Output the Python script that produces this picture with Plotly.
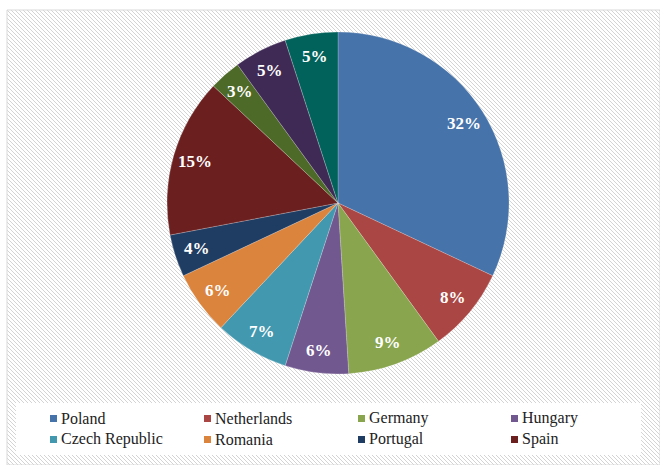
import base64
import math
import plotly.graph_objects as go

labels = ["Poland", "Netherlands", "Germany", "Hungary", "Czech Republic",
          "Romania", "Portugal", "Spain", "Other 1", "Other 2", "Other 3"]
values = [32, 8, 9, 6, 7, 6, 4, 15, 3, 5, 5]
colors = ["#4673A9", "#AA4643", "#89A54E", "#71588F", "#4198AF",
          "#DB843D", "#1F3C62", "#6B1F1F", "#4E6A28", "#3F2A55", "#00625A"]
legend_labels = ["Poland", "Netherlands", "Germany", "Hungary",
                 "Czech Republic", "Romania", "Portugal", "Spain"]

W, H = 660, 465
SERIF = "Liberation Serif"

# hatched background as inline svg
fx0, fy0, fx1, fy1 = 7, 10, 660, 465
fw, fh = fx1 - fx0, fy1 - fy0
svg = (f"<svg xmlns='http://www.w3.org/2000/svg' width='{fw}' height='{fh}'>"
       "<defs><pattern id='p' width='4' height='4' patternUnits='userSpaceOnUse'>"
       "<rect width='4' height='4' fill='white'/>"
       "<path d='M-1,-1 L5,5 M-1,3 L1,5 M3,-1 L5,1' stroke='#d4d4d4' stroke-width='1'/>"
       "</pattern></defs>"
       f"<rect width='{fw}' height='{fh}' fill='url(#p)'/></svg>")
src = "data:image/svg+xml;base64," + base64.b64encode(svg.encode()).decode()

cx, cy, r = 338, 203, 171

fig = go.Figure(go.Pie(
    labels=labels, values=values, sort=False, direction="clockwise", rotation=0,
    marker=dict(colors=colors, line=dict(width=0.6, color="rgba(255,255,255,0.35)")),
    textinfo="none",
    domain=dict(x=[(cx - r) / W, (cx + r) / W], y=[1 - (cy + r) / H, 1 - (cy - r) / H]),
    showlegend=False, hoverinfo="label+percent",
))

annotations = []
total = sum(values)
cum = 0
for v in values:
    mid = (cum + v / 2) / total * 2 * math.pi
    cum += v
    px = cx + 0.87 * r * math.sin(mid)
    py = cy - 0.87 * r * math.cos(mid)
    annotations.append(dict(text=f"<b>{round(100 * v / total)}%</b>", xref="paper", yref="paper",
                            x=px / W, y=1 - py / H, xanchor="center", yanchor="middle",
                            showarrow=False,
                            font=dict(family=SERIF, size=17, color="white")))

shapes = [
    dict(type="rect", xref="paper", yref="paper", x0=fx0 / W, x1=1, y0=0, y1=1 - fy0 / H,
         line=dict(color="#d9d9d9", width=1), fillcolor="rgba(0,0,0,0)", layer="below"),
    dict(type="rect", xref="paper", yref="paper", x0=16 / W, x1=641 / W,
         y0=1 - 455 / H, y1=1 - 403 / H, line=dict(width=0), fillcolor="white", layer="below"),
]
col_x = [50, 204, 358, 511]
row_y = [418, 439]
for i, name in enumerate(legend_labels):
    x = col_x[i % 4]
    y = row_y[i // 4]
    shapes.append(dict(type="rect", xref="paper", yref="paper",
                       x0=x / W, x1=(x + 7) / W, y0=1 - (y + 4) / H, y1=1 - (y - 3) / H,
                       line=dict(width=0), fillcolor=colors[labels.index(name)]))
    annotations.append(dict(text=name, xref="paper", yref="paper", x=(x + 9) / W,
                            y=1 - y / H, xanchor="left", yanchor="middle", showarrow=False,
                            font=dict(family=SERIF, size=16, color="#222222")))

fig.update_layout(
    width=W, height=H, margin=dict(l=0, r=0, t=0, b=0),
    paper_bgcolor="white", plot_bgcolor="white",
    font=dict(family=SERIF),
    images=[dict(source=src, xref="paper", yref="paper", x=fx0 / W, y=1 - fy0 / H,
                 sizex=fw / W, sizey=fh / H, sizing="stretch", xanchor="left",
                 yanchor="top", layer="below")],
    shapes=shapes, annotations=annotations,
)
fig.write_html("out.html", config={"displayModeBar": False},
               post_script="document.body.style.margin='0';document.body.style.overflow='hidden';")
